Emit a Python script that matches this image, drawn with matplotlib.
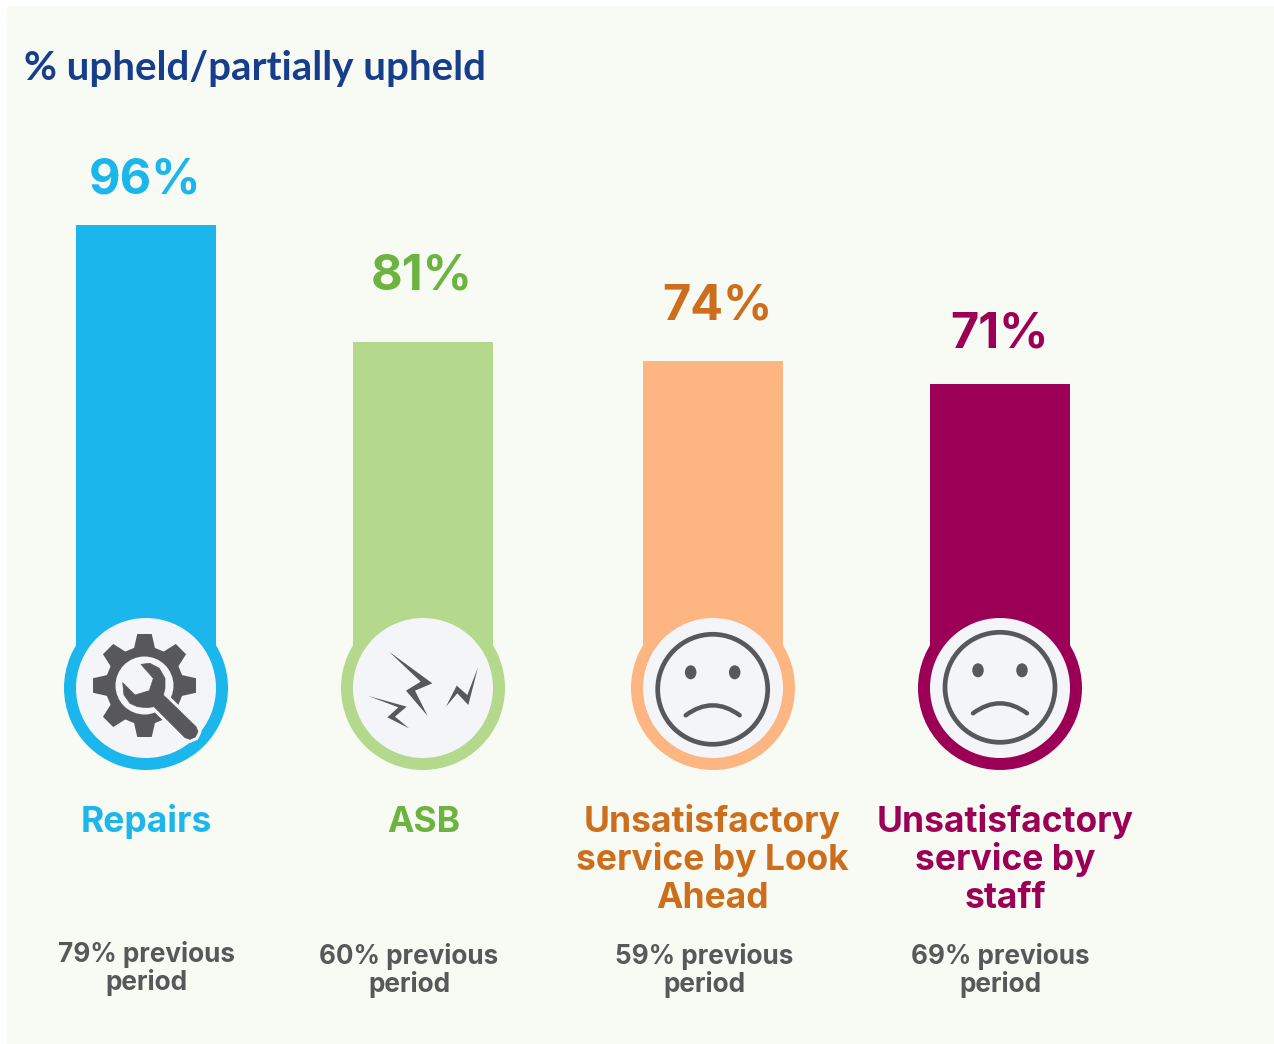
import matplotlib
matplotlib.use('Agg')
import matplotlib.pyplot as plt
import numpy as np
from matplotlib.patches import Circle, Ellipse, Polygon, Rectangle, PathPatch
from matplotlib.path import Path

# values
categories = [['Repairs'], ['ASB'],
              ['Unsatisfactory', 'service by Look', 'Ahead'],
              ['Unsatisfactory', 'service by', 'staff']]
current = [96, 81, 74, 71]
previous = [79, 60, 59, 69]
# drawn length of each bar, above the centre of its icon (the bars are not to scale)
bar_length = [463, 346, 327, 304]

bar_colors = ['#1BB7EC', '#B4D88C', '#FDB582', '#9B0056']
text_colors = ['#1BB7EC', '#6DB33F', '#CC6E1C', '#9B0056']
grey = '#58585A'
light = '#F4F5F8'

# positions, the axes run in pixels
bar_x = [146, 423, 713, 1000]
base_y = 688
cat_x = [146, 423.5, 712, 1005]
value_x = [145, 422, 717, 999]
value_y = [193, 290, 319, 348]
prev_x = [146, 409, 704, 1000]
prev_y = [962, 964, 964, 964]

plt.rcParams['font.family'] = ['Inter', 'DejaVu Sans']

fig = plt.figure(figsize=(12.74, 10.44), dpi=100, facecolor='white')
ax = fig.add_axes([0, 0, 1, 1])
ax.set_xlim(0, 1274)
ax.set_ylim(1044, 0)
ax.axis('off')

ax.add_patch(Rectangle((7, 6), 1267, 1038, color='#F8FBF4', lw=0, zorder=0))
ax.text(24, 80, '% upheld/partially upheld', color='#163E8C', fontsize=29,
        fontweight='bold', family=['Lato', 'DejaVu Sans'], va='baseline')

ax.bar(bar_x, [-b for b in bar_length], width=140, bottom=base_y,
       color=bar_colors, zorder=1)

for i, x in enumerate(bar_x):
    ax.add_patch(Circle((x, base_y), 82, color=bar_colors[i], lw=0, zorder=2))
    ax.add_patch(Circle((x, base_y), 70, color=light, lw=0, zorder=3))
    ax.text(value_x[i], value_y[i], f'{current[i]}%', color=text_colors[i], fontsize=35,
            fontweight='bold', ha='center', va='baseline', zorder=6)
    for j, line in enumerate(categories[i]):
        ax.text(cat_x[i], 832 + j * 38, line, color=text_colors[i], fontsize=25.5,
                fontweight='bold', ha='center', va='baseline')
    ax.text(prev_x[i], prev_y[i], f'{previous[i]}% previous', color=grey, fontsize=18.8,
            fontweight='bold', ha='center', va='baseline')
    ax.text(prev_x[i], prev_y[i] + 28, 'period', color=grey, fontsize=18.8,
            fontweight='bold', ha='center', va='baseline')


def zoomed(pts, x0, y0):
    return [(x0 + px / 3, y0 + py / 3) for px, py in pts]


# gear
cx, cy = 144.5, 685.5
angles = np.radians(np.arange(0, 360, 45))
gear = []
for a in angles:
    for da, r in [(-0.27, 39), (-0.14, 52), (0.14, 52), (0.27, 39)]:
        gear.append((cx + r * np.cos(a + da), cy + r * np.sin(a + da)))
ax.add_patch(Polygon(gear, color=grey, lw=0, zorder=4))
ax.add_patch(Circle((cx, cy), 29, color=light, lw=0, zorder=4))

# wrench
wrench = zoomed([(273, 193), (300, 190), (328, 205), (345, 235), (345, 265), (340, 285),
                 (438, 380), (444, 395), (436, 411), (420, 418), (405, 413), (312, 320),
                 (290, 323), (262, 320), (240, 310), (222, 285), (218, 248), (255, 285),
                 (298, 272), (310, 235)], 50, 600)
ax.add_patch(Polygon(wrench, facecolor=grey, edgecolor=light, lw=5, joinstyle='round', zorder=5))
ax.add_patch(Polygon(wrench, facecolor=grey, edgecolor=grey, lw=0.5, zorder=5))

# lightning
bolts = [[(1017, 155), (1147, 250), (1095, 272), (1133, 348), (1068, 272), (1112, 245)],
         [(955, 288), (1070, 320), (1035, 350), (1077, 385), (1012, 352), (1045, 322)],
         [(1284, 202), (1255, 315), (1222, 280), (1188, 320), (1220, 257), (1252, 285)]]
for b in bolts:
    ax.add_patch(Polygon(zoomed(b, 50, 600), color=grey, lw=0, zorder=4))


# sad faces
def face(x, y):
    ax.add_patch(Circle((x, y), 55, facecolor='none', edgecolor=grey, lw=3.4, zorder=4))
    for dx in (-22, 22):
        ax.add_patch(Ellipse((x + dx, y - 17), 11.5, 14, color=grey, lw=0, zorder=4))
    mouth = Path([(x - 27, y + 26), (x, y + 6), (x + 27, y + 26)],
                 [Path.MOVETO, Path.CURVE3, Path.CURVE3])
    ax.add_patch(PathPatch(mouth, facecolor='none', edgecolor=grey, lw=3.2,
                           capstyle='round', zorder=4))


face(712.7, 689.3)
face(1000, 687.3)

fig.savefig('out.png', dpi=100, facecolor='white')
